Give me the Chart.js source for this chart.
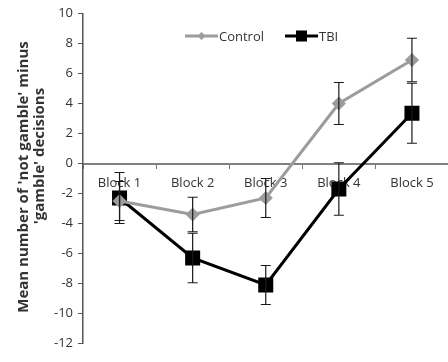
<!DOCTYPE html>
<html>
<head>
<meta charset="utf-8">
<script src="https://cdn.jsdelivr.net/npm/chart.js@4/dist/chart.umd.min.js"></script>
<style>
  html, body { margin: 0; padding: 0; background: #fff; overflow: hidden; }
  #wrap { width: 460px; height: 362px; }
</style>
</head>
<body>
<div id="wrap"><canvas id="chart" width="460" height="362"></canvas></div>
<script>
// ---- data ----
const blocks = ['Block 1', 'Block 2', 'Block 3', 'Block 4', 'Block 5'];
const controlMean = [-2.5, -3.4, -2.3, 4.0, 6.9];
const controlErr = [1.3, 1.15, 1.3, 1.4, 1.45];
const tbiMean = [-2.3, -6.3, -8.1, -1.7, 3.35];
const tbiErr = [1.7, 1.65, 1.3, 1.75, 2.0];
const yTicks = [10, 8, 6, 4, 2, 0, -2, -4, -6, -8, -10, -12];
const yTitle = ["Mean number of 'not gamble' minus", "'gamble' decisions"];

const FONT = '"Open Sans", "Liberation Sans", sans-serif';
const GRAY = '#9c9c9c';

// error bars, drawn over the lines
const errorBars = {
  id: 'errorBars',
  afterDatasetsDraw(chart) {
    const { ctx, scales: { x, y } } = chart;
    const sets = [[controlMean, controlErr], [tbiMean, tbiErr]];
    ctx.save();
    ctx.strokeStyle = '#1a1a1a';
    ctx.lineWidth = 1.2;
    sets.forEach(([m, e]) => {
      m.forEach((v, i) => {
        const px = x.getPixelForValue(i);
        const top = y.getPixelForValue(v + e[i]);
        const bot = y.getPixelForValue(v - e[i]);
        ctx.beginPath();
        ctx.moveTo(px, top); ctx.lineTo(px, bot);
        ctx.moveTo(px - 5, top); ctx.lineTo(px + 5, top);
        ctx.moveTo(px - 5, bot); ctx.lineTo(px + 5, bot);
        ctx.stroke();
      });
    });
    ctx.restore();
  }
};

// legend inside the plot, line + marker like the original
const insideLegend = {
  id: 'insideLegend',
  afterDraw(chart) {
    const ctx = chart.ctx;
    const items = [
      { x: 185, ds: chart.data.datasets[0] },
      { x: 285, ds: chart.data.datasets[1] }
    ];
    const cy = 36;
    ctx.save();
    items.forEach(it => {
      const ds = it.ds;
      ctx.strokeStyle = ds.borderColor;
      ctx.lineWidth = 3;
      ctx.beginPath(); ctx.moveTo(it.x, cy); ctx.lineTo(it.x + 33, cy); ctx.stroke();
      const mx = it.x + 16.5;
      ctx.fillStyle = ds.borderColor;
      ctx.beginPath();
      if (ds.pointStyle === 'rectRot') {
        ctx.moveTo(mx - 4, cy); ctx.lineTo(mx, cy - 4); ctx.lineTo(mx + 4, cy); ctx.lineTo(mx, cy + 4);
      } else {
        ctx.rect(mx - 5.5, cy - 5.5, 11, 11);
      }
      ctx.closePath(); ctx.fill();
      ctx.fillStyle = '#333';
      ctx.font = '13px ' + FONT;
      ctx.textAlign = 'left'; ctx.textBaseline = 'middle';
      ctx.fillText(ds.label, it.x + 34, cy + 1);
    });
    ctx.restore();
  }
};

// y title: the second line sits a bit higher than the first in the original
const yTitlePlugin = {
  id: 'yTitlePlugin',
  afterDraw(chart) {
    const ctx = chart.ctx;
    const spots = [[24, 177], [40, 156]];
    ctx.save();
    ctx.fillStyle = '#333';
    ctx.font = 'bold 15px ' + FONT;
    ctx.textAlign = 'center'; ctx.textBaseline = 'middle';
    yTitle.forEach((t, i) => {
      ctx.save();
      ctx.translate(spots[i][0], spots[i][1]);
      ctx.rotate(-Math.PI / 2);
      ctx.fillText(t, 0, 0);
      ctx.restore();
    });
    ctx.restore();
  }
};

new Chart(document.getElementById('chart'), {
  type: 'line',
  data: {
    labels: blocks,
    datasets: [{
      label: 'Control',
      data: controlMean,
      borderColor: GRAY, backgroundColor: GRAY,
      borderWidth: 3,
      pointStyle: 'rectRot', pointRadius: 5, pointHoverRadius: 5,
      tension: 0
    }, {
      label: 'TBI',
      data: tbiMean,
      borderColor: '#000', backgroundColor: '#000',
      borderWidth: 3,
      pointStyle: 'rect', pointRadius: 8.5, pointHoverRadius: 8.5,
      tension: 0
    }]
  },
  options: {
    responsive: false, animation: false,
    layout: { padding: { left: 0, right: 7, top: 13.5, bottom: 18.5 } },
    plugins: { legend: { display: false }, tooltip: { enabled: false } },
    scales: {
      x: {
        position: { y: 0 },
        offset: true,
        grid: { offset: true, drawOnChartArea: false, tickLength: 4, color: '#777' },
        border: { color: '#808080', width: 2 },
        ticks: { color: '#333', font: { family: FONT, size: 13 }, padding: 8, maxRotation: 0 }
      },
      y: {
        min: -12, max: 10,
        afterFit: s => { s.width = 83; },
        afterBuildTicks: s => { s.ticks = yTicks.map(v => ({ value: v })); },
        grid: { drawOnChartArea: false, tickLength: 5, color: '#555' },
        border: { color: '#555', width: 1.5 },
        ticks: { color: '#333', font: { family: FONT, size: 13 }, padding: 5 }
      }
    }
  },
  plugins: [errorBars, insideLegend, yTitlePlugin]
});
</script>
</body>
</html>
